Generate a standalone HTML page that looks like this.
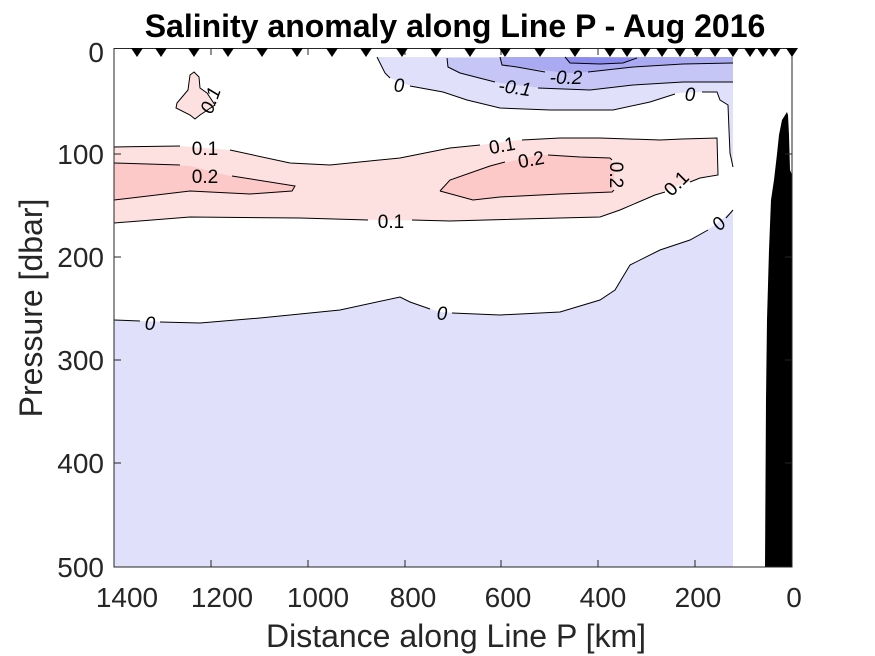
<!DOCTYPE html>
<html><head><meta charset="utf-8"><style>body{margin:0;background:#fff}svg{display:block}</style></head><body>
<svg width="875" height="656" viewBox="0 0 875 656" xmlns="http://www.w3.org/2000/svg" font-family="Liberation Sans, sans-serif">
<rect width="875" height="656" fill="#fff"/>
<polygon fill="#e0e0fb" points="114,320 200,323 260,318 340,310 400,297 410,302 440,312 500,315 560,312 600,300 615,290 630,265 660,250 690,240 715,225 733,210 733,567 114,567"/>
<polygon fill="#e0e0fb" points="377,57 385,73 390,78 413,87 443,92 467,100 500,108 550,110 613,110 650,102 677,93 703,92 717,92 720,100 728,105 729,130 730,153 733,167 733,57"/>
<polygon fill="#c6c6f6" points="447,58 448,67 460,73 500,83 550,89 590,90 633,85 683,82 733,82 733,57"/>
<polygon fill="#aaaaf2" points="500,57 502,65 517,67 567,73 590,72 633,67 683,64 733,63 733,57"/>
<polygon fill="#8c8cee" points="565,57 570,63 600,64 623,63 637,58"/>
<polygon fill="#fde0e0" points="114,147 180,146 230,150 290,163 330,165 400,158 450,148 480,145 520,140 560,138 600,138 660,140 682,139 717,138 718,175 700,178 680,185 655,195 620,210 600,217 560,218 450,221 380,220 300,218 190,217 114,223"/>
<polygon fill="#fcc8c8" points="114,163 190,166 230,176 295,186 292,191 250,194 190,191 114,200"/>
<polygon fill="#fcc8c8" points="440,191 450,180 490,166 540,155 580,157 610,158 615,170 612,192 560,194 500,197 473,200"/>
<polygon fill="#fde0e0" stroke="#000" stroke-width="1" points="194,72 199,77 200,88 207,93 215,105 200,115 195,119 190,115 176,108 177,103 188,90 190,75"/>
<g fill="none" stroke="#000" stroke-width="1">
<polyline points="114,320 140,321"/><polyline points="160,322 200,323 260,318 340,310 400,297 410,302 430,309"/>
<polyline points="452,313 500,315 560,312 600,300 615,290 630,265 660,250 690,240 708,230"/>
<polyline points="726,218 733,210"/>
<polyline points="377,57 385,73 390,78"/><polyline points="410,86 443,92 467,100 500,108 550,110 613,110 650,102 675,94"/><polyline points="702,92 717,92 720,100 728,105 729,130 730,153 733,167"/>
<polyline points="447,58 448,67 460,73 495,82"/><polyline points="538,88 590,90 633,85 683,82 733,82"/>
<polyline points="500,57 502,65 517,67 545,72"/><polyline points="588,72 633,67 683,64 733,63"/>
<polyline points="565,57 570,63 600,64 623,63 637,58"/>
<polyline points="114,147 180,146"/><polyline points="230,150 290,163 330,165 400,158 450,148 480,145"/><polyline points="522,140 560,138 600,138 660,140 682,139 717,138 718,175 700,178 690,182"/>
<polyline points="665,192 655,195 620,210 600,217 560,218 450,221 412,220"/><polyline points="368,220 300,218 190,217 114,223"/>
<polyline points="114,163 180,165"/><polyline points="232,176 295,186 292,191 250,194 190,191 114,200"/>
<polyline points="440,191 450,180 490,166 505,162"/><polyline points="548,155 580,157 610,158 612,160"/><polyline points="614,190 612,192 560,194 500,197 473,200 440,191"/>
</g>
<g font-size="19" fill="#000" text-anchor="middle" font-style="italic">
<text x="150" y="330">0</text>
<text x="442" y="320">0</text>
<text x="719" y="230" transform="rotate(-50 719 224)">0</text>
<text x="399" y="92">0</text>
<text x="690" y="101">0</text>
<text x="515" y="94" transform="rotate(8 515 87)">-0.1</text>
<text x="566" y="84">-0.2</text>
<text x="210" y="107" transform="rotate(-70 210 100)">0.1</text>
</g>
<g font-size="19" fill="#000" text-anchor="middle">
<text x="205" y="155">0.1</text>
<text x="205" y="183">0.2</text>
<text x="391" y="228">0.1</text>
<text x="502" y="152" transform="rotate(-10 502 145)">0.1</text>
<text x="531" y="166" transform="rotate(-10 531 159)">0.2</text>
<text x="617" y="182" transform="rotate(90 617 175)">0.2</text>
<text x="676" y="190" transform="rotate(-45 676 183)">0.1</text>
</g>
<polygon fill="#000" points="787,112 782,120 779,135 777,154 774,180 771,200 769,250 767,320 766,400 765,567 792,567 792,175 790,170 789,135 788,115"/>
<rect x="114" y="48.5" width="678" height="518.5" fill="none" stroke="#262626" stroke-width="1"/>
<g stroke="#262626" stroke-width="1">
<line x1="114" y1="154" x2="121" y2="154"/><line x1="114" y1="257" x2="121" y2="257"/><line x1="114" y1="360" x2="121" y2="360"/><line x1="114" y1="463" x2="121" y2="463"/>
<line x1="792" y1="154" x2="785" y2="154"/><line x1="792" y1="257" x2="785" y2="257"/><line x1="792" y1="360" x2="785" y2="360"/><line x1="792" y1="463" x2="785" y2="463"/>
<line x1="211" y1="567" x2="211" y2="560"/><line x1="308" y1="567" x2="308" y2="560"/><line x1="405" y1="567" x2="405" y2="560"/><line x1="501" y1="567" x2="501" y2="560"/><line x1="598" y1="567" x2="598" y2="560"/><line x1="695" y1="567" x2="695" y2="560"/>
<line x1="211" y1="48" x2="211" y2="55"/><line x1="308" y1="48" x2="308" y2="55"/><line x1="405" y1="48" x2="405" y2="55"/><line x1="501" y1="48" x2="501" y2="55"/><line x1="598" y1="48" x2="598" y2="55"/><line x1="695" y1="48" x2="695" y2="55"/>
</g>
<g fill="#000">
<path d="M131,48 h12 l-6,9z"/><path d="M155,48 h12 l-6,9z"/><path d="M188,48 h12 l-6,9z"/><path d="M222,48 h12 l-6,9z"/><path d="M256,48 h12 l-6,9z"/><path d="M291,48 h12 l-6,9z"/><path d="M326,48 h12 l-6,9z"/><path d="M360,48 h12 l-6,9z"/><path d="M396,48 h12 l-6,9z"/><path d="M430,48 h12 l-6,9z"/><path d="M464,48 h12 l-6,9z"/><path d="M499,48 h12 l-6,9z"/><path d="M534,48 h12 l-6,9z"/><path d="M569,48 h12 l-6,9z"/><path d="M604,48 h12 l-6,9z"/><path d="M621,48 h12 l-6,9z"/><path d="M639,48 h12 l-6,9z"/><path d="M656,48 h12 l-6,9z"/><path d="M674,48 h12 l-6,9z"/><path d="M691,48 h12 l-6,9z"/><path d="M709,48 h12 l-6,9z"/><path d="M727,48 h12 l-6,9z"/><path d="M744,48 h12 l-6,9z"/><path d="M757,48 h12 l-6,9z"/><path d="M769,48 h12 l-6,9z"/><path d="M786,48 h12 l-6,9z"/>
</g>
<g font-size="28" fill="#262626">
<g text-anchor="end">
<text x="104" y="62">0</text><text x="104" y="164">100</text><text x="104" y="267">200</text><text x="104" y="370">300</text><text x="104" y="473">400</text><text x="104" y="577">500</text>
</g>
<g text-anchor="middle">
<text x="127" y="607">1400</text><text x="222" y="607">1200</text><text x="318" y="607">1000</text><text x="413" y="607">800</text><text x="508" y="607">600</text><text x="603" y="607">400</text><text x="698" y="607">200</text><text x="794" y="607">0</text>
</g>
</g>
<text x="456" y="647" font-size="32" fill="#262626" text-anchor="middle">Distance along Line P [km]</text>
<text x="308" y="42" font-size="32" fill="#262626" text-anchor="middle" transform="rotate(-90 42 42) translate(-308 0) translate(-308 0) " visibility="hidden">x</text>
<text x="0" y="0" font-size="32" fill="#262626" text-anchor="middle" transform="translate(42 308) rotate(-90)">Pressure [dbar]</text>
<text x="455" y="37" font-size="32" font-weight="bold" fill="#000" text-anchor="middle">Salinity anomaly along Line P - Aug 2016</text>
</svg>
</body></html>
